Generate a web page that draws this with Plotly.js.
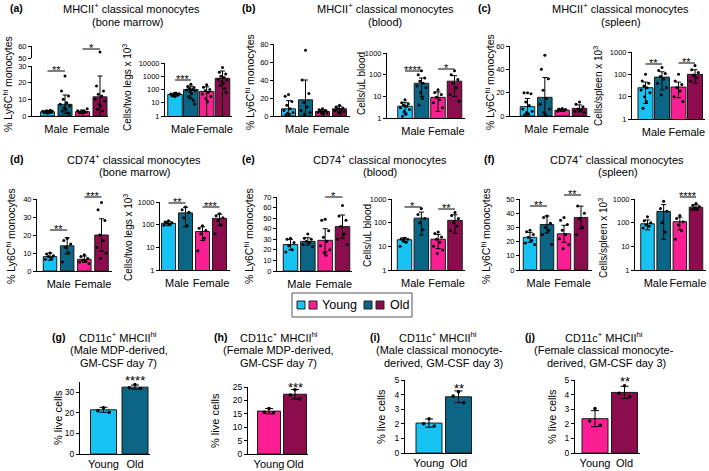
<!DOCTYPE html>
<html><head><meta charset="utf-8">
<script src="https://cdn.plot.ly/plotly-3.0.1.min.js"></script>
<style>html,body{margin:0;padding:0;background:#fff}#plot{width:709px;height:471px}</style>
</head><body><div id="plot"></div>
<script>
// ---------------- DATA ----------------
const groups = ['Male', 'Female'];
const ages = ['Young', 'Old'];
const logTicks = [1, 10, 100, 1000, 10000];

// (a) MHCII+ classical monocytes (bone marrow)
const a_pct_mean = [2.5, 7.0, 2.6, 11.5];
const a_pct_sd = [0.8, 5.6, 1.0, 12.5];
const a_pct_pts = [[1.6,2.0,2.2,2.4,2.6,2.8,3.0,3.2,1.9,2.5,3.4,2.1],[24,15,12,10,8,7,6,5,4,3,2,1.5],[1.6,2.0,2.3,2.6,2.9,3.2,4.4,2.4,2.8,1.9],[55,18,15,13,12,10,9,7,6,4,3]];
const a_cell_mean = [42, 100, 70, 700];
const a_cell_sd = [12, 80, 90, 1800];
const a_cell_pts = [[30,35,38,40,42,45,48,50,55,33,44],[250,170,140,120,100,90,80,70,50,30,15,8],[230,150,100,80,60,45,30,20,12],[4500,2000,1500,1000,800,600,500,400,300,200,120,60]];

// (b) MHCII+ classical monocytes (blood)
const b_pct_mean = [8, 18, 5, 8];
const b_pct_sd = [9, 22, 2, 3];
const b_pct_pts = [[24,22,16,12,8,6,4,3,2,1],[73,40,25,15,10,6,4,2],[8,7,6,5,5,4,3,3,2],[12,10,9,8,7,6,5,4,3]];
const b_cell_mean = [3.5, 40, 9, 50];
const b_cell_sd = [1.8, 30, 7, 40];
const b_cell_pts = [[7,5,4.5,4,3.5,3,2.5,2,1.5,1.2],[150,100,70,50,40,30,25,15,8,4],[20,15,12,9,7,5,3],[150,100,60,40,25,12,6]];

// (c) MHCII+ classical monocytes (spleen)
const c_pct_mean = [8, 16, 5, 6.5];
const c_pct_sd = [7, 17, 1, 3];
const c_pct_pts = [[20,20,19,12,9,6,4,3,2,1],[52,40,32,22,15,10,6,3,1],[6.5,6,5.5,5,4.5,4],[12,10,8,6,5,4,3]];
const c_cell_mean = [25, 75, 27, 100];
const c_cell_sd = [20, 55, 18, 60];
const c_cell_pts = [[100,50,40,30,25,20,15,10,6,3],[200,150,110,80,60,40,25,12],[100,50,35,25,18,10,6],[250,160,120,90,70,50]];

// (d) CD74+ classical monocytes (bone marrow)
const d_pct_mean = [8, 14, 6.5, 20];
const d_pct_sd = [2, 4.5, 1.8, 9];
const d_pct_pts = [[10,9.5,8.5,8,7,6.5],[18,17,15,13,10,5],[9,8,7,6,5.5,5,4],[38,34,28,20,17,13,10,7]];
const d_cell_mean = [115, 330, 50, 190];
const d_cell_sd = [25, 250, 30, 100];
const d_cell_pts = [[150,130,120,115,105,95],[600,450,350,200,90],[90,70,55,40,25,7],[300,250,200,150,100,40]];

// (e) CD74+ classical monocytes (blood)
const e_pct_mean = [25, 28, 29, 42];
const e_pct_sd = [5, 3.5, 11, 11];
const e_pct_pts = [[31,30,27,24,20,18],[35,31,30,28,27,25,23],[49,48,38,32,28,24,20,17,15],[62,52,48,42,35,30,25]];
const e_cell_mean = [19, 155, 20, 125];
const e_cell_sd = [4, 125, 12, 90];
const e_cell_pts = [[22,21,20,18,15,10],[400,220,150,100,50],[40,35,25,20,15,10,7,5],[270,200,150,100,70,45]];

// (f) CD74+ classical monocytes (spleen)
const f_pct_mean = [23, 32, 25.5, 37];
const f_pct_sd = [3.5, 6, 6, 8];
const f_pct_pts = [[28,27,25,23,21,19,18],[38,37,33,30,28,25,18],[37,35,32,28,25,22,18,15],[52,45,40,36,30,25]];
const f_cell_mean = [90, 300, 110, 450];
const f_cell_sd = [40, 280, 60, 120];
const f_cell_pts = [[180,120,100,80,70,60],[800,400,300,100,40],[200,150,110,80,45,20],[650,550,480,420,380,350]];

// (g)-(j) CD11c+ MHCIIhi % live cells
const g_mean = [21.5, 32.5], g_sd = [1.2, 1.0], g_pts = [[22.5,21,20.3],[33.8,32.2,31.8]];
const h_mean = [16, 22.3], h_sd = [1.0, 1.8], h_pts = [[17,15.6,15.3],[24,22,20.6]];
const i_mean = [2.05, 3.85], i_sd = [0.28, 0.4], i_pts = [[2.35,2.0,1.85],[4.2,3.9,3.45]];
const j_mean = [2.35, 4.15], j_sd = [0.55, 0.42], j_pts = [[3.05,2.2,1.9],[4.6,4.1,3.85]];

// ---------------- STYLE ----------------
const C_MY = '#17c3f2', C_MO = '#0b6686', C_FY = '#fb1f93', C_FO = '#8b0d4e';
const FONT = 'Liberation Sans, Arial, sans-serif';
const W = 709, H = 471;
const fx = px => px / W;
const fy = px => 1 - px / H;
const JIT = [0, -0.2, 0.2, -0.1, 0.1, -0.27, 0.27, -0.05, 0.05, -0.15, 0.15, 0.23];

const traces = [];
const layout = {
  width: W, height: H, margin: {l:0, r:0, t:0, b:0}, showlegend: false,
  paper_bgcolor: '#fff', plot_bgcolor: 'rgba(0,0,0,0)',
  font: {family: FONT, color: '#000'}, shapes: [], annotations: [], bargap: 0
};
let k = 0;
const nm = n => n === 1 ? '' : String(n);

function addSubplot(cfg) {
  k++; const s = nm(k);
  const n = cfg.means.length;
  const step = (cfg.cLast - cfg.cFirst) / (n - 1);
  const xr = [(cfg.axisX - cfg.cFirst) / step, (n - 1) + (cfg.rightX - cfg.cLast) / step];
  const isLog = cfg.type === 'log';
  const tv = cfg.tickvals;
  layout['xaxis' + s] = {
    domain: [fx(cfg.axisX), fx(cfg.rightX)], range: xr, anchor: 'y' + s,
    showgrid: false, zeroline: false, showline: true, linecolor: '#000', linewidth: 1,
    ticks: cfg.xticklen ? 'outside' : '', ticklen: cfg.xticklen || 0, tickcolor: 'rgba(0,0,0,0)',
    tickangle: 0, tickmode: 'array', tickvals: cfg.xtickvals, ticktext: cfg.xticktext,
    tickfont: {size: cfg.xfont || 11, family: FONT}, fixedrange: true
  };
  layout['yaxis' + s] = {
    domain: [fy(cfg.yBot), fy(cfg.yTop)], type: cfg.type,
    range: isLog ? [Math.log10(cfg.range[0]), Math.log10(cfg.range[1])] : cfg.range,
    anchor: 'x' + s, showgrid: false, zeroline: false, showline: true, linecolor: '#000', linewidth: 1,
    ticks: 'outside', ticklen: 3, tickcolor: '#000', tickwidth: 1,
    tickmode: 'array', tickvals: tv, ticktext: tv.map(String),
    tickfont: {size: cfg.yfont || 7.5, family: FONT}, fixedrange: true
  };
  const xs = cfg.means.map((_, i) => i);
  traces.push({
    type: 'bar', x: xs, y: cfg.means, xaxis: 'x' + s, yaxis: 'y' + s,
    width: cfg.barPx / step, base: isLog ? undefined : 0,
    marker: {color: cfg.colors, line: {color: '#1a1a1a', width: 1}},
    error_y: {type: 'data', array: cfg.sds, visible: true, color: '#000', thickness: 1, width: cfg.capW || 2.5},
    hoverinfo: 'skip'
  });
  const px = [], py = [];
  cfg.pts.forEach((arr, i) => arr.forEach((v, j) => { px.push(i + JIT[j % JIT.length] * (cfg.jitScale || 1)); py.push(v); }));
  traces.push({
    type: 'scatter', mode: 'markers', x: px, y: py, xaxis: 'x' + s, yaxis: 'y' + s,
    marker: {color: '#000', size: cfg.ms || 3}, hoverinfo: 'skip'
  });
  if (cfg.upper) {
    k++; const s2 = nm(k);
    layout['yaxis' + s2] = {
      domain: [fy(cfg.upper.yBot), fy(cfg.upper.yTop)], range: cfg.upper.range, anchor: 'x' + s,
      showgrid: false, zeroline: false, showline: true, linecolor: '#000', linewidth: 1,
      ticks: 'outside', ticklen: 3, tickcolor: '#000', tickmode: 'array',
      tickvals: cfg.upper.tickvals, ticktext: cfg.upper.tickvals.map(String),
      tickfont: {size: cfg.yfont || 7.5, family: FONT}, fixedrange: true
    };
    traces.push({
      type: 'scatter', mode: 'markers', x: px, y: py, xaxis: 'x' + s, yaxis: 'y' + s2,
      marker: {color: '#000', size: cfg.ms || 3}, hoverinfo: 'skip'
    });
  }
  (cfg.sig || []).forEach(g => {
    if (g.bracket !== false) {
      layout.shapes.push({type: 'line', xref: 'x' + s, yref: 'paper', x0: g.i, x1: g.j,
        y0: fy(g.y), y1: fy(g.y), line: {color: '#000', width: 1}});
    }
    layout.annotations.push({xref: 'x' + s, yref: 'paper', x: (g.i + g.j) / 2, y: fy(g.y - 1),
      text: g.t, showarrow: false, xanchor: 'center', yanchor: 'middle',
      font: {size: g.fs || 11, family: FONT}});
  });
}

const C4 = [C_MY, C_MO, C_FY, C_FO];
const sexTicks = {xtickvals: [0.5, 2.5], xticktext: groups, xticklen: 3};

// Top row
addSubplot(Object.assign({means: a_pct_mean, sds: a_pct_sd, pts: a_pct_pts, colors: C4,
  axisX: 32, cFirst: 47.5, cLast: 100, rightX: 108, barPx: 14, yTop: 66, yBot: 116,
  type: 'linear', range: [0, 30], tickvals: [0, 10, 20, 30],
  upper: {yTop: 46, yBot: 58, range: [50, 60], tickvals: [50, 60]},
  sig: [{i: 0, j: 1, y: 71, t: '**'}, {i: 2, j: 3, y: 49, t: '*'}]}, sexTicks));
addSubplot(Object.assign({means: a_cell_mean, sds: a_cell_sd, pts: a_cell_pts, colors: C4,
  axisX: 165, cFirst: 175, cLast: 222.5, rightX: 232, barPx: 14.5, yTop: 63, yBot: 116,
  type: 'log', range: [1, 10000], tickvals: logTicks,
  sig: [{i: 0, j: 1, y: 80, t: '***'}]}, sexTicks));
addSubplot(Object.assign({means: b_pct_mean, sds: b_pct_sd, pts: b_pct_pts, colors: C4,
  axisX: 274, cFirst: 288.5, cLast: 339.5, rightX: 350, barPx: 14, yTop: 44, yBot: 116,
  type: 'linear', range: [0, 80], tickvals: [0, 20, 40, 60, 80]}, sexTicks));
addSubplot(Object.assign({means: b_cell_mean, sds: b_cell_sd, pts: b_cell_pts, colors: C4,
  axisX: 387, cFirst: 405, cLast: 454.5, rightX: 465, barPx: 14.5, yTop: 53, yBot: 118,
  type: 'log', range: [1, 1000], tickvals: logTicks.slice(0, 4),
  sig: [{i: 0, j: 1, y: 71, t: '****'}, {i: 2, j: 3, y: 69, t: '*'}]}, sexTicks));
addSubplot(Object.assign({means: c_pct_mean, sds: c_pct_sd, pts: c_pct_pts, colors: C4,
  axisX: 510, cFirst: 527.5, cLast: 579.5, rightX: 590, barPx: 14.5, yTop: 46, yBot: 116,
  type: 'linear', range: [0, 60], tickvals: [0, 20, 40, 60]}, sexTicks));
addSubplot(Object.assign({means: c_cell_mean, sds: c_cell_sd, pts: c_cell_pts, colors: C4,
  axisX: 632, cFirst: 645.5, cLast: 695, rightX: 705, barPx: 15, yTop: 52, yBot: 119,
  type: 'log', range: [1, 1000], tickvals: logTicks.slice(0, 4),
  sig: [{i: 0, j: 1, y: 64, t: '**'}, {i: 2, j: 3, y: 63, t: '**'}]}, sexTicks));

// Middle row
addSubplot(Object.assign({means: d_pct_mean, sds: d_pct_sd, pts: d_pct_pts, colors: C4,
  axisX: 37, cFirst: 50, cLast: 101.5, rightX: 112, barPx: 13.5, yTop: 199, yBot: 271,
  type: 'linear', range: [0, 40], tickvals: [0, 10, 20, 30, 40],
  sig: [{i: 0, j: 1, y: 230, t: '**'}, {i: 2, j: 3, y: 197, t: '***'}]}, sexTicks));
addSubplot(Object.assign({means: d_cell_mean, sds: d_cell_sd, pts: d_cell_pts, colors: C4,
  axisX: 160, cFirst: 168.5, cLast: 219.5, rightX: 230, barPx: 14, yTop: 202, yBot: 270,
  type: 'log', range: [1, 1000], tickvals: logTicks.slice(0, 4),
  sig: [{i: 0, j: 1, y: 203, t: '**'}, {i: 2, j: 3, y: 207, t: '***'}]}, sexTicks));
addSubplot(Object.assign({means: e_pct_mean, sds: e_pct_sd, pts: e_pct_pts, colors: C4,
  axisX: 277, cFirst: 290.5, cLast: 342.5, rightX: 352, barPx: 14.5, yTop: 197, yBot: 271,
  type: 'linear', range: [0, 70], tickvals: [0, 10, 20, 30, 40, 50, 60, 70],
  sig: [{i: 2, j: 3, y: 197, t: '*'}]}, sexTicks));
addSubplot(Object.assign({means: e_cell_mean, sds: e_cell_sd, pts: e_cell_pts, colors: C4,
  axisX: 392, cFirst: 404.5, cLast: 455, rightX: 465, barPx: 14.5, yTop: 199, yBot: 270,
  type: 'log', range: [1, 1000], tickvals: logTicks.slice(0, 4),
  sig: [{i: 0, j: 1, y: 207, t: '*'}, {i: 2, j: 3, y: 209, t: '**'}]}, sexTicks));
addSubplot(Object.assign({means: f_pct_mean, sds: f_pct_sd, pts: f_pct_pts, colors: C4,
  axisX: 520, cFirst: 530, cLast: 581, rightX: 592, barPx: 13.5, yTop: 199, yBot: 270,
  type: 'linear', range: [0, 50], tickvals: [0, 10, 20, 30, 40, 50],
  sig: [{i: 0, j: 1, y: 206, t: '**'}, {i: 2, j: 3, y: 195, t: '**'}]}, sexTicks));
addSubplot(Object.assign({means: f_cell_mean, sds: f_cell_sd, pts: f_cell_pts, colors: C4,
  axisX: 635, cFirst: 647.5, cLast: 696, rightX: 706, barPx: 13.5, yTop: 199, yBot: 270,
  type: 'log', range: [1, 1000], tickvals: logTicks.slice(0, 4),
  sig: [{i: 2, j: 3, y: 197, t: '****'}]}, sexTicks));

// Bottom row
const ageTicks = {xtickvals: [0, 1], xticktext: ages, xfont: 11, yfont: 8.5, capW: 4, ms: 3.5, jitScale: 0.9};
addSubplot(Object.assign({means: g_mean, sds: g_sd, pts: g_pts, colors: [C_MY, C_MO],
  axisX: 80, cFirst: 103.5, cLast: 135, rightX: 150, barPx: 26, yTop: 382, yBot: 454,
  type: 'linear', range: [0, 35], tickvals: [0, 10, 20, 30],
  sig: [{i: 1, j: 1, y: 381, t: '****', bracket: false, fs: 13}]}, ageTicks));
addSubplot(Object.assign({means: h_mean, sds: h_sd, pts: h_pts, colors: [C_FY, C_FO],
  axisX: 248, cFirst: 269, cLast: 295, rightX: 308, barPx: 23, yTop: 387, yBot: 454,
  type: 'linear', range: [0, 25], tickvals: [0, 5, 10, 15, 20, 25],
  sig: [{i: 1, j: 1, y: 388, t: '***', bracket: false, fs: 13}]}, ageTicks));
addSubplot(Object.assign({means: i_mean, sds: i_sd, pts: i_pts, colors: [C_MY, C_MO],
  axisX: 405, cFirst: 429, cLast: 458.5, rightX: 472, barPx: 26, yTop: 380, yBot: 453,
  type: 'linear', range: [0, 5], tickvals: [0, 1, 2, 3, 4, 5],
  sig: [{i: 1, j: 1, y: 389, t: '**', bracket: false, fs: 13}]}, ageTicks));
addSubplot(Object.assign({means: j_mean, sds: j_sd, pts: j_pts, colors: [C_FY, C_FO],
  axisX: 575, cFirst: 595, cLast: 624.5, rightX: 640, barPx: 26, yTop: 380, yBot: 453,
  type: 'linear', range: [0, 5], tickvals: [0, 1, 2, 3, 4, 5],
  sig: [{i: 1, j: 1, y: 382, t: '**', bracket: false, fs: 13}]}, ageTicks));

// ---------------- TEXT ----------------
function txt(x, y, t, size, opts) {
  layout.annotations.push(Object.assign({xref: 'paper', yref: 'paper', x: fx(x), y: fy(y), text: t,
    showarrow: false, xanchor: 'center', yanchor: 'middle', font: {size: size, family: FONT, color: '#000'}}, opts || {}));
}
function ylab(x, y, t, size) { txt(x, y, t, size || 10.5, {textangle: -90}); }

// panel letters
[['(a)', 8, 8], ['(b)', 240, 8], ['(c)', 476, 8], ['(d)', 8, 159], ['(e)', 240, 159], ['(f)', 482, 159],
 ['(g)', 50, 337], ['(h)', 212, 337], ['(i)', 368, 337], ['(j)', 523, 337]].forEach(p =>
  txt(p[1], p[2], '<b>' + p[0] + '</b>', 10.5, {xanchor: 'left'}));

// panel titles
const T1 = 'MHCII<sup>+</sup> classical monocytes', T2 = 'CD74<sup>+</sup> classical monocytes';
txt(131, 8, T1, 11); txt(128, 22, '(bone marrow)', 11);
txt(385, 8, T1, 11); txt(385, 22, '(blood)', 11);
txt(620, 8, T1, 11); txt(621, 22, '(spleen)', 11);
txt(134, 159, T2, 11); txt(135, 172, '(bone marrow)', 11);
txt(380, 159, T2, 11); txt(380, 172, '(blood)', 11);
txt(617, 159, T2, 11); txt(618, 172, '(spleen)', 11);
const T3 = 'CD11c<sup>+</sup> MHCII<sup>hi</sup>';
txt(118, 337, T3, 11); txt(119, 350, '(Male MDP-derived,', 11); txt(119, 363, 'GM-CSF day 7)', 11);
txt(279, 337, T3, 11); txt(278, 350, '(Female MDP-derived,', 11); txt(278, 363, 'GM-CSF day 7)', 11);
txt(438, 337, T3, 11); txt(439, 350, '(Male classical monocyte-', 11); txt(443, 363, 'derived, GM-CSF day 3)', 11);
txt(604, 337, T3, 11); txt(604, 350, '(Female classical monocyte-', 11); txt(606, 363, 'derived, GM-CSF day 3)', 11);

// y-axis labels
const YP = '% Ly6C<sup>hi</sup> monocytes';
ylab(8, 84, YP); ylab(127, 88, 'Cells/two legs x 10<sup>3</sup>', 10);
ylab(250, 82, YP); ylab(362, 84, 'Cells/uL blood', 10);
ylab(490, 82, YP); ylab(598, 86, 'Cells/spleen x 10<sup>3</sup>', 10);
ylab(10, 236, YP); ylab(128, 238, 'Cells/two legs x 10<sup>3</sup>', 10);
ylab(248, 236, YP); ylab(367, 236, 'Cells/uL blood', 10);
ylab(485, 236, YP); ylab(603, 238, 'Cells/spleen x 10<sup>3</sup>', 10);
ylab(58, 418, '% live cells', 11); ylab(215, 420, '% live cells', 11);
ylab(381, 417, '% live cells', 11); ylab(552, 417, '% live cells', 11);

// legend box (drawn)
layout.shapes.push({type: 'rect', xref: 'paper', yref: 'paper', x0: fx(292), x1: fx(412), y0: fy(317), y1: fy(293),
  line: {color: '#555', width: 1}, fillcolor: 'rgba(0,0,0,0)'});
[[297, C_MY], [309, C_FY], [364, C_MO], [376, C_FO]].forEach(q =>
  layout.shapes.push({type: 'rect', xref: 'paper', yref: 'paper', x0: fx(q[0]), x1: fx(q[0] + 8), y0: fy(309), y1: fy(301),
    line: {color: '#222', width: 1}, fillcolor: q[1]}));
txt(320, 305, ages[0], 12.5, {xanchor: 'left'});
txt(388, 305, ages[1], 12.5, {xanchor: 'left'});

Plotly.newPlot('plot', traces, layout, {staticPlot: true, displayModeBar: false});
</script></body></html>
